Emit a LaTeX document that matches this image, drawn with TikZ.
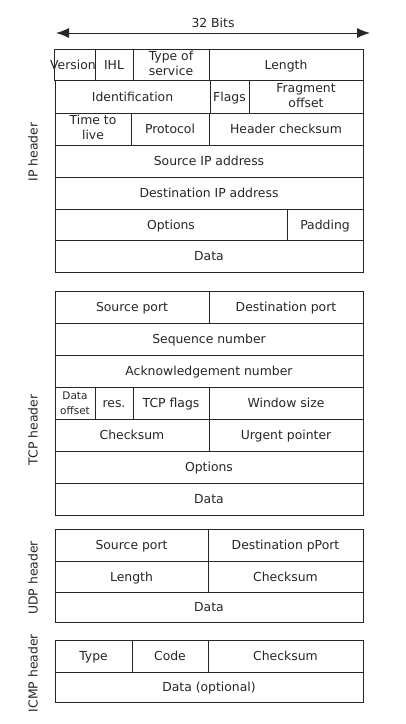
\documentclass[tikz,border=0pt]{standalone}
\usepackage{fontspec}
\setmainfont{DejaVu Sans}
\usetikzlibrary{arrows.meta}
\newcommand{\fld}[6]{\node[field, minimum width={#3-#2}, minimum height={#5-#4}] (#1) at ({(#2+#3)/2},{(#4+#5)/2}) {#6};}
\def\fs{\rule[-3pt]{0pt}{15pt}}
\def\small{\fontsize{10.5}{13.5}\selectfont\rule[-2.6pt]{0pt}{13.5pt}}

\begin{document}
\begin{tikzpicture}[x=1pt,y=-1pt,
    field/.style={draw=black!85, line width=1pt, inner sep=0pt, align=center,
        font=\fontsize{12.4}{15}\selectfont, text=black!85,
        execute at begin node=\fs},
    side/.style={rotate=90, font=\fontsize{12.4}{15}\selectfont, text=black!85}]
    \useasboundingbox (0,0) rectangle (405,724);
    % width arrow
    \coordinate (wl) at (56,33);
    \coordinate (wr) at (370,33);
    \draw[{Latex[length=13pt,width=10pt]}-{Latex[length=13pt,width=10pt]}, line width=1pt, black!85]
        (wl) -- node[above=1.5pt, font=\fontsize{12.4}{15}\selectfont, text=black!85] (bits) {32 Bits} (wr);
    % IP
    \node[side] (iplab) at (33,152) {IP header};
    \fld{ipver}{55}{95}{49}{80}{\hspace*{-4pt}Version}
    \fld{ipihl}{95}{133}{49}{80}{IHL}
    \fld{iptos}{133}{209}{49}{80}{Type of\\\fs service}
    \fld{iplen}{209}{363}{49}{80}{Length}
    \fld{ipid}{55}{210}{80}{113}{Identification}
    \fld{ipflg}{210}{249}{80}{113}{Flags}
    \fld{ipfrag}{249}{363}{80}{113}{Fragment\\\fs offset}
    \fld{ipttl}{55}{131}{113}{145}{Time to\\\fs live}
    \fld{ipprot}{131}{209}{113}{145}{Protocol}
    \fld{ipsum}{209}{363}{113}{145}{Header checksum}
    \fld{ipsrc}{55}{363}{145}{177}{Source IP address}
    \fld{ipdst}{55}{363}{177}{209}{Destination IP address}
    \fld{ipopt}{55}{287}{209}{240}{Options}
    \fld{ippad}{287}{363}{209}{240}{Padding}
    \fld{ipdata}{55}{363}{240}{272}{Data}
    % TCP
    \node[side] (tcplab) at (33,430) {TCP header};
    \fld{tcpsrc}{55}{209}{291}{323}{Source port}
    \fld{tcpdst}{209}{363}{291}{323}{Destination port}
    \fld{tcpseq}{55}{363}{323}{355}{Sequence number}
    \fld{tcpack}{55}{363}{355}{387}{Acknowledgement number}
    \node[field, execute at begin node={}, minimum width=40, minimum height=32] (tcpoff) at (75,403) {\small Data\\\small offset};
    \fld{tcpres}{95}{133}{387}{419}{res.}
    \fld{tcpflg}{133}{209}{387}{419}{TCP flags}
    \fld{tcpwin}{209}{363}{387}{419}{Window size}
    \fld{tcpsum}{55}{209}{419}{451}{Checksum}
    \fld{tcpurg}{209}{363}{419}{451}{Urgent pointer}
    \fld{tcpopt}{55}{363}{451}{483}{Options}
    \fld{tcpdata}{55}{363}{483}{515}{Data}
    % UDP
    \node[side] (udplab) at (33,578) {UDP header};
    \fld{udpsrc}{55}{208}{529}{561}{Source port}
    \fld{udpdst}{208}{363}{529}{561}{Destination pPort}
    \fld{udplen}{55}{208}{561}{592}{Length}
    \fld{udpsum}{208}{363}{561}{592}{Checksum}
    \fld{udpdata}{55}{363}{592}{622}{Data}
    % ICMP
    \node[side] (icmplab) at (33,673) {ICMP header};
    \fld{icmptype}{55}{132}{640}{672}{Type}
    \fld{icmpcode}{132}{208}{640}{672}{Code}
    \fld{icmpsum}{208}{363}{640}{672}{Checksum}
    \fld{icmpdata}{55}{363}{672}{702}{Data (optional)}
\end{tikzpicture}
\end{document}
